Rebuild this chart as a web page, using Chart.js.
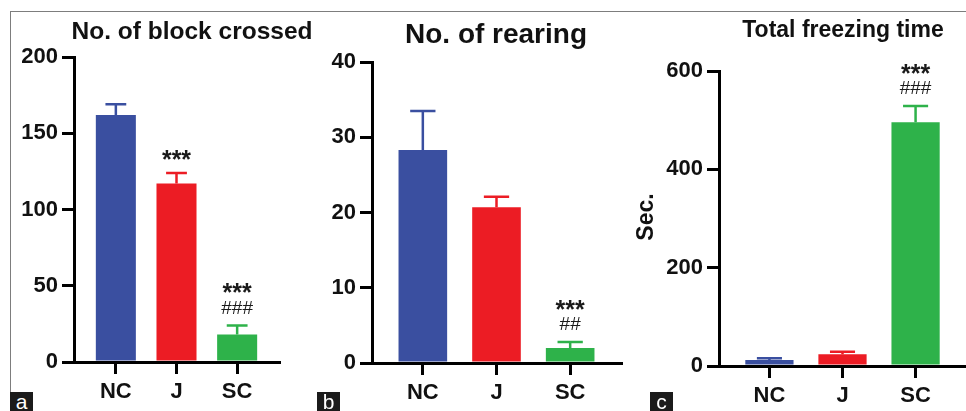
<!DOCTYPE html>
<html>
<head>
<meta charset="utf-8">
<script src="https://cdn.jsdelivr.net/npm/chart.js@4.4.1/dist/chart.umd.min.js"></script>
<style>
  body { margin: 0; background: #fff; width: 966px; height: 411px; overflow: hidden; position: relative;
         font-family: 'Liberation Sans', Arial, sans-serif; }
  #frame { position: absolute; left: 10px; top: 11px; width: 960px; height: 400px;
           border-top: 1px solid #7d7d7d; border-left: 1px solid #7d7d7d; }
  canvas { position: absolute; top: 0; }
  .tag { position: absolute; top: 392px; width: 23px; height: 19px; background: #1b1b1b; color: #fff;
         font-size: 21px; line-height: 19px; text-align: center; overflow: hidden; }
</style>
</head>
<body>
<div id="frame"></div>
<canvas id="chartA" width="300" height="411" style="left:12px"></canvas>
<canvas id="chartB" width="320" height="411" style="left:315px"></canvas>
<canvas id="chartC" width="332" height="411" style="left:634px"></canvas>
<div class="tag" style="left:10px">a</div>
<div class="tag" style="left:317px">b</div>
<div class="tag" style="left:650px">c</div>
<script>
// groups and bar colours
const groups = ['NC', 'J', 'SC'];
const barColors = ['#3a4fa0', '#ec1c24', '#2eb24a'];

// a - no. of block crossed (mean, error)
const crossedMean = [162, 117, 18];
const crossedErr = [7, 7, 6];
const crossedMarks = [[], ['***'], ['***', '###']];
const crossedTicks = [0, 50, 100, 150, 200];

// b - no. of rearing
const rearingMean = [28.3, 20.7, 2.0];
const rearingErr = [5.2, 1.4, 0.8];
const rearingMarks = [[], [], ['***', '##']];
const rearingTicks = [0, 10, 20, 30, 40];

// c - total freezing time (sec.)
const freezeMean = [12, 24, 496];
const freezeErr = [4, 5, 33];
const freezeMarks = [[], [], ['***', '###']];
const freezeTicks = [0, 200, 400, 600];

const FONT = "'Liberation Sans', Arial, sans-serif";

// error bars, significance marks and titles
const extras = {
  id: 'extras',
  afterDatasetsDraw(chart, args, opts) {
    const ctx = chart.ctx;
    const ys = chart.scales.y;
    const meta = chart.getDatasetMeta(0);
    ctx.save();
    opts.err.forEach(function(e, i) {
      const bar = meta.data[i];
      const x = bar.x;
      const yTop = ys.getPixelForValue(opts.mean[i] + e);
      const cap = bar.width * 0.26;
      ctx.strokeStyle = barColors[i];
      ctx.lineWidth = 2.5;
      ctx.beginPath();
      ctx.moveTo(x, bar.y);
      ctx.lineTo(x, yTop);
      ctx.moveTo(x - cap, yTop);
      ctx.lineTo(x + cap, yTop);
      ctx.stroke();

      const lines = opts.marks[i];
      ctx.fillStyle = '#1a1a1a';
      ctx.textAlign = 'center';
      ctx.textBaseline = 'middle';
      lines.forEach(function(t, k) {
        const up = lines.length - 1 - k;
        const y = yTop - 17 - up * 19;
        ctx.font = t[0] === '*' ? 'bold 25px ' + FONT : '19px ' + FONT;
        ctx.fillText(t, x, t[0] === '*' ? y + 5 : y);
      });
    });

    // chart title
    ctx.fillStyle = '#111';
    ctx.textAlign = 'center';
    ctx.textBaseline = 'middle';
    ctx.font = 'bold ' + opts.titleSize + 'px ' + FONT;
    ctx.fillText(opts.title, opts.titleX, opts.titleY);

    // y axis title
    if (opts.yTitle) {
      ctx.save();
      ctx.translate(opts.yTitleX, opts.yTitleY);
      ctx.rotate(-Math.PI / 2);
      ctx.font = 'bold 23px ' + FONT;
      ctx.fillText(opts.yTitle, 0, 0);
      ctx.restore();
    }
    ctx.restore();
  }
};

function makePanel(id, mean, err, marks, yTicks, box, text) {
  const tickFont = { family: FONT, size: 22, weight: 'bold' };

  return new Chart(document.getElementById(id), {
    type: 'bar',
    data: {
      datasets: [{
        data: mean.map(function(v, i) { return { x: i, y: v }; }),
        backgroundColor: barColors,
        borderWidth: 0,
        barPercentage: 0.66,
        categoryPercentage: 1
      }]
    },
    plugins: [extras],
    options: {
      responsive: false,
      animation: false,
      devicePixelRatio: 1,
      layout: { padding: { top: box.top, right: box.right, bottom: 0, left: 0 } },
      plugins: {
        legend: { display: false },
        tooltip: { enabled: false },
        extras: Object.assign({ mean: mean, err: err, marks: marks }, text)
      },
      scales: {
        x: {
          type: 'linear',
          offset: false,
          min: -0.69,
          max: 2.69,
          afterBuildTicks: function(s) { s.ticks = groups.map(function(g, i) { return { value: i }; }); },
          afterFit: function(s) { s.height = box.bottom; },
          grid: { offset: false, drawOnChartArea: false, drawTicks: true, tickLength: 12, lineWidth: 3, color: '#000' },
          border: { display: true, color: '#000', width: 3 },
          ticks: { color: '#111', font: tickFont, padding: 5, maxRotation: 0, autoSkip: false,
                   callback: function(v) { return groups[v]; } }
        },
        y: {
          min: yTicks[0],
          max: yTicks[yTicks.length - 1],
          afterBuildTicks: function(s) { s.ticks = yTicks.map(function(v) { return { value: v }; }); },
          afterFit: function(s) { s.width = box.left; },
          grid: { drawOnChartArea: false, drawTicks: true, tickLength: 12, lineWidth: 3, color: '#000' },
          border: { display: true, color: '#000', width: 3 },
          ticks: { color: '#111', font: tickFont, padding: 4 }
        }
      }
    }
  });
}

makePanel('chartA', crossedMean, crossedErr, crossedMarks, crossedTicks,
  { top: 57, bottom: 49, left: 62, right: 33 },
  { title: 'No. of block crossed', titleSize: 24.5, titleX: 180, titleY: 32 });

makePanel('chartB', rearingMean, rearingErr, rearingMarks, rearingTicks,
  { top: 62, bottom: 48, left: 57, right: 14 },
  { title: 'No. of rearing', titleSize: 28, titleX: 181, titleY: 35 });

makePanel('chartC', freezeMean, freezeErr, freezeMarks, freezeTicks,
  { top: 71, bottom: 45, left: 85, right: 0 },
  { title: 'Total freezing time', titleSize: 23, titleX: 209, titleY: 31,
    yTitle: 'Sec.', yTitleX: 13, yTitleY: 217 });
</script>
</body>
</html>
